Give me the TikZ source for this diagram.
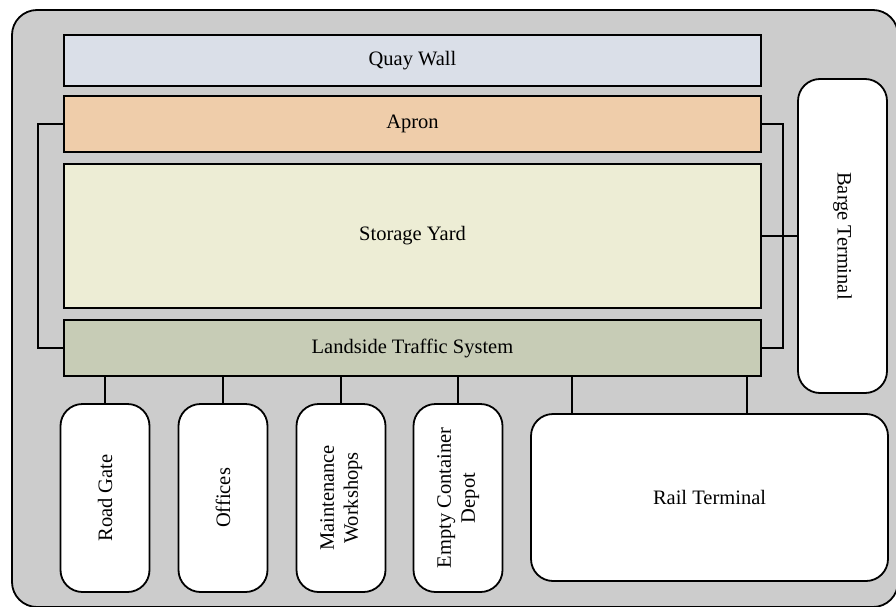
\documentclass[tikz,border=0pt]{standalone}
\usepackage{fontspec}
\setmainfont{Liberation Serif}
\usepackage{graphicx}
\definecolor{framegray}{RGB}{204,204,204}
\definecolor{quaycol}{RGB}{218,223,232}
\definecolor{aproncol}{RGB}{239,205,170}
\definecolor{storecol}{RGB}{237,237,213}
\definecolor{landcol}{RGB}{199,204,182}
\tikzset{
  layer/.style={draw=black, line width=1.8pt, inner sep=0pt, minimum width=697pt, font=\fontsize{20.5}{24}\selectfont},
  facility/.style={draw=black, fill=white, line width=1.8pt, rounded corners=22pt, inner sep=0pt, font=\fontsize{20.5}{24}\selectfont},
  link/.style={draw=black, line width=1.8pt},
}
\begin{document}
\begin{tikzpicture}[x=1pt,y=-1pt]
\useasboundingbox (0,0) rectangle (896,607);
\draw[fill=framegray, line width=1.8pt, rounded corners=25pt] (12,10) rectangle (898,607);

\node[layer, fill=quaycol, minimum height=51pt] (quay) at (412.5,60.5) {Quay Wall};
\node[layer, fill=aproncol, minimum height=56pt] (apron) at (412.5,124) {Apron};
\node[layer, fill=storecol, minimum height=144pt] (storage) at (412.5,236) {Storage Yard};
\node[layer, fill=landcol, minimum height=56pt] (landside) at (412.5,348) {Landside Traffic System};

\node[facility, minimum width=89pt, minimum height=314pt] (barge) at (842.5,236) {\rotatebox{-90}{Barge Terminal}};
\node[facility, minimum width=89pt, minimum height=188pt] (roadgate) at (105,498) {\rotatebox{90}{Road Gate}};
\node[facility, minimum width=89pt, minimum height=188pt] (offices) at (223,498) {\rotatebox{90}{Offices}};
\node[facility, minimum width=89pt, minimum height=188pt] (maint) at (341,498) {\rotatebox{90}{\begin{tabular}{@{}c@{}}Maintenance\\Workshops\end{tabular}}};
\node[facility, minimum width=89pt, minimum height=188pt] (depot) at (458,498) {\rotatebox{90}{\begin{tabular}{@{}c@{}}Empty Container\\Depot\end{tabular}}};
\node[facility, minimum width=357pt, minimum height=167pt] (rail) at (709.5,497.5) {Rail Terminal};

\coordinate (lbend1) at (38,124);
\coordinate (rbend1) at (783,124);
\draw[link] (apron.west) -- (lbend1) -- (lbend1 |- landside.west) -- (landside.west);
\draw[link] (apron.east) -- (rbend1) -- (rbend1 |- landside.east) -- (landside.east);
\draw[link] (storage.east) -- (barge.west);

\draw[link] (roadgate.north) -- (roadgate.north |- landside.south);
\draw[link] (offices.north) -- (offices.north |- landside.south);
\draw[link] (maint.north) -- (maint.north |- landside.south);
\draw[link] (depot.north) -- (depot.north |- landside.south);
\draw[link] ([xshift=42pt]rail.north west) -- ([xshift=42pt]rail.north west |- landside.south);
\draw[link] ([xshift=217pt]rail.north west) -- ([xshift=217pt]rail.north west |- landside.south);
\end{tikzpicture}
\end{document}
